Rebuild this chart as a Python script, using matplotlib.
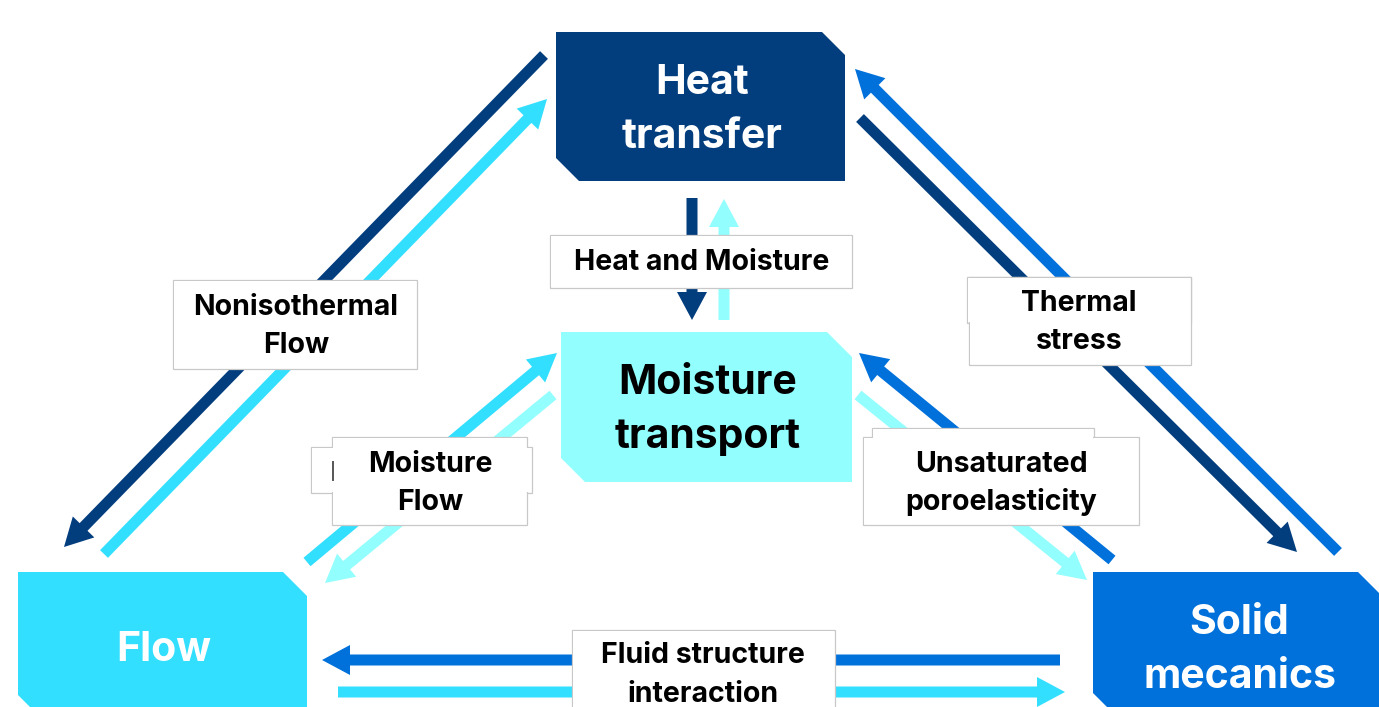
import matplotlib
matplotlib.use("Agg")
import matplotlib.pyplot as plt
from matplotlib.patches import Polygon, Rectangle, FancyArrow

# ---------------- data ----------------
node_names = ["Heat\ntransfer", "Moisture\ntransport", "Flow", "Solid\nmecanics"]
node_colors = ["#023D7E", "#93FEFE", "#33DFFF", "#0071DB"]
node_text_colors = ["white", "black", "white", "white"]

coupling_labels = ["Heat and Moisture", "Nonisothermal\nFlow", "Thermal\nstress",
                   "Moisture\nFlow", "Unsaturated\nporoelasticity",
                   "Fluid structure\ninteraction"]

# arrows: (source node index, target node index)
arrow_pairs = [(0, 2), (2, 0), (3, 0), (0, 3), (0, 1), (1, 0),
               (2, 1), (1, 2), (3, 1), (1, 3), (3, 2), (2, 3)]

# ---------------- layout (pixels) ----------------
W, H = 1379, 707
# node boxes: x0, y0, x1, y1, top-right snip, bottom-left snip
node_boxes = [(556, 32, 845, 181, 23, 23),
              (561, 332, 852, 482, 25, 24),
              (18, 572, 307, 719, 24, 24),
              (1093, 572, 1381, 717, 23, 24)]
# text lines: list of (x, baseline y) per line
node_text_pos = [[(702, 94), (702, 148)],
                 [(708, 394), (708, 448)],
                 [(164, 661)],
                 [(1239, 634), (1240, 688)]]

# label boxes as unions of rectangles (x0, y0, x1, y1)
label_boxes = [[(550, 235, 852, 288)],
               [(173, 280, 417, 369)],
               [(967, 277, 1191, 323), (969, 277, 1191, 365)],
               [(311, 447, 532, 493), (332, 437, 527, 525)],
               [(872, 428, 1094, 440), (863, 437, 1139, 525)],
               [(572, 630, 835, 712)]]
label_text_pos = [[(702, 270)],
                  [(296, 315), (296, 353)],
                  [(1079, 311), (1079, 349)],
                  [(430, 472), (430, 510)],
                  [(1001, 472), (1001, 510)],
                  [(703, 663), (703, 702)]]

# arrow geometry: tail (x, y), tip (x, y)
arrow_geom = [((544, 55), (64, 547)),
              ((104, 554), (547, 99)),
              ((1338, 552), (855, 69)),
              ((860, 118), (1297, 552)),
              ((692, 198), (692, 320)),
              ((724, 320), (724, 199)),
              ((307, 562), (557, 353)),
              ((553, 395), (325, 583)),
              ((1112, 560), (859, 353)),
              ((858, 395), (1087, 580)),
              ((1060, 660), (322, 660)),
              ((338, 692), (1065, 692))]

FONT = ["Inter", "DejaVu Sans"]
NODE_FS = 29.5
LABEL_FS = 20.5

fig = plt.figure(figsize=(W / 100, H / 100), dpi=100)
ax = fig.add_axes([0, 0, 1, 1])
ax.set_xlim(0, W)
ax.set_ylim(H, 0)
ax.axis("off")

# arrows (colour = colour of source node)
for (s, t), ((x0, y0), (x1, y1)) in zip(arrow_pairs, arrow_geom):
    ax.add_patch(FancyArrow(x0, y0, x1 - x0, y1 - y0, width=11, head_width=30,
                            head_length=28, length_includes_head=True,
                            color=node_colors[s], lw=0, zorder=2))

# nodes
for name, col, tcol, (x0, y0, x1, y1, tr, bl), tpos in zip(
        node_names, node_colors, node_text_colors, node_boxes, node_text_pos):
    pts = [(x0, y0), (x1 - tr, y0), (x1, y0 + tr), (x1, y1), (x0 + bl, y1), (x0, y1 - bl)]
    ax.add_patch(Polygon(pts, closed=True, facecolor=col, edgecolor="none", zorder=3))
    for line, (tx, ty) in zip(name.split("\n"), tpos):
        ax.text(tx, ty, line, ha="center", va="baseline", color=tcol,
                fontsize=NODE_FS, fontweight="bold", family=FONT, zorder=4)

# coupling labels
for text, rects, tpos in zip(coupling_labels, label_boxes, label_text_pos):
    for (x0, y0, x1, y1) in rects:
        ax.add_patch(Rectangle((x0, y0), x1 - x0, y1 - y0, facecolor="white",
                               edgecolor="#C8C8C8", lw=0.9, zorder=5))
    for (x0, y0, x1, y1) in rects:
        ax.add_patch(Rectangle((x0 + 0.6, y0 + 0.6), x1 - x0 - 1.2, y1 - y0 - 1.2,
                               facecolor="white", edgecolor="none", zorder=6))
    for line, (tx, ty) in zip(text.split("\n"), tpos):
        ax.text(tx, ty, line, ha="center", va="baseline", color="black",
                fontsize=LABEL_FS, fontweight="bold", family=FONT, zorder=7)

# small stray mark inside the "Moisture Flow" box
ax.plot([333, 333], [462, 480], color="#555555", lw=1.4, zorder=7)

fig.savefig("out.png", dpi=100)
